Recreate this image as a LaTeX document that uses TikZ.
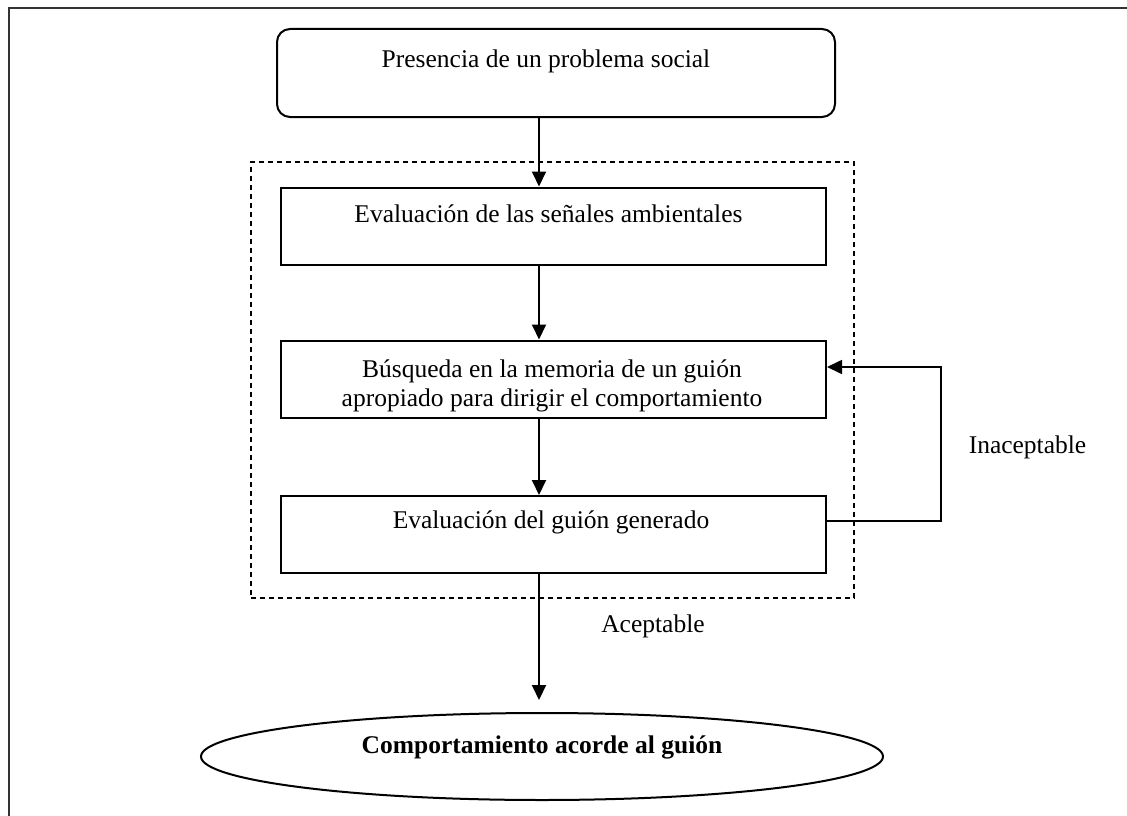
\documentclass[tikz,border=0pt]{standalone}
\usepackage{fontspec}
\setmainfont{Liberation Serif}
\usetikzlibrary{arrows.meta,shapes.geometric}
\begin{document}
\begin{tikzpicture}[x=1pt,y=-1pt,
  box/.style={draw,line width=2pt,minimum width=545pt,minimum height=77pt,inner sep=0pt},
  txt/.style={anchor=base,inner sep=0pt,font=\fontsize{25.5}{30}\selectfont},
  arr/.style={line width=2pt,-{Triangle[length=15pt,width=14pt]}},
  conn/.style={line width=1.7pt}]
\useasboundingbox (0,0) rectangle (1127,816);
% outer frame
\draw[line width=2.2pt,black!80] (9,830) -- (9,8) -- (1140,8);
% boxes
\node[draw,line width=2pt,rounded corners=13pt,minimum width=558pt,minimum height=88pt,inner sep=0pt] (b0) at (556,73) {};
\node[draw,dashed,line width=1.7pt,dash pattern=on 5pt off 4pt,minimum width=603pt,minimum height=436pt,inner sep=0pt] (grp) at (552.5,380) {};
\node[box] (b1) at (553.5,226) {};
\node[box] (b2) at (553.5,379) {};
\node[box] (b3) at (553.5,534.5) {};
\node[ellipse,draw,line width=2pt,minimum width=682pt,minimum height=87pt,inner sep=0pt] (el) at (542,756.5) {};
% texts
\node[txt] (t0) at (546,67) {Presencia de un problema social};
\node[txt] (t1) at (548.5,222) {Evaluación de las señales ambientales};
\node[txt] (t2a) at (552,377) {Búsqueda en la memoria de un guión};
\node[txt] (t2b) at (552,406) {apropiado para dirigir el comportamiento};
\node[txt] (t3) at (551,528) {Evaluación del guión generado};
\node[txt,font=\fontsize{25.5}{30}\selectfont\bfseries] (t4) at (542,753) {Comportamiento acorde al guión};
\node[txt] (lacc) at (653,632) {Aceptable};
\node[txt] (linac) at (1027.5,453) {Inaceptable};
% connectors
\coordinate (ax) at (539,0);
\coordinate (tip) at (539,700);
\coordinate (fb1) at (941,521);
\coordinate (fb2) at (941,367);
\draw[arr] (b0.south -| ax) -- (b1.north -| ax);
\draw[arr] (b1.south -| ax) -- (b2.north -| ax);
\draw[arr] (b2.south -| ax) -- (b3.north -| ax);
\draw[arr] (b3.south -| ax) -- (tip);
\draw[conn,-{Triangle[length=15pt,width=14pt]}] (b3.east |- fb1) -- (fb1) -- (fb2) -- (b2.east |- fb2);
\end{tikzpicture}
\end{document}
